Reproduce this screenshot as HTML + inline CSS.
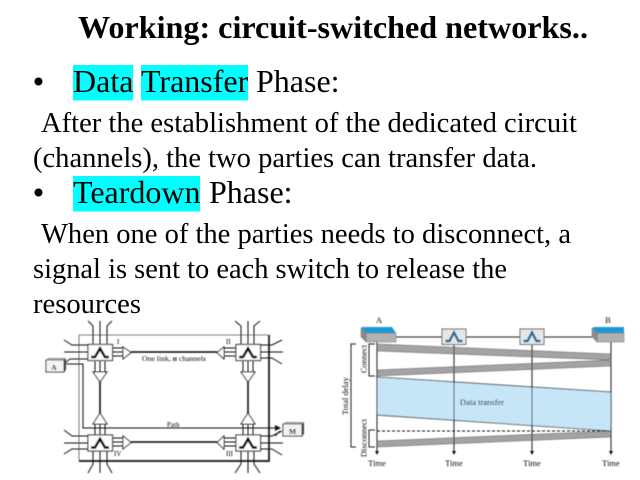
<!DOCTYPE html>
<html>
<head>
<meta charset="utf-8">
<style>
html,body{margin:0;padding:0;background:#fff;width:640px;height:480px;overflow:hidden}
svg{display:block}
text{font-family:"Liberation Serif","Times New Roman",serif;fill:#000}
.b{font-size:29px}
.h{font-size:32px}
.d{filter:url(#bl)}
.t{filter:url(#tb)}
</style>
</head>
<body>
<svg width="640" height="480" viewBox="0 0 640 480" xmlns="http://www.w3.org/2000/svg">
<defs>
<filter id="bl" x="-5%" y="-5%" width="110%" height="110%"><feGaussianBlur stdDeviation="0.45"/></filter>
<filter id="tb" x="-2%" y="-2%" width="104%" height="104%"><feGaussianBlur stdDeviation="0.2"/></filter>
<g id="sw">
<rect x="-12" y="-8" width="24.500" height="16" fill="#fff" stroke="#222" stroke-width="1.100"/>
<path d="M-9 4.500H-5L0 -4L5 4.500H9" fill="none" stroke="#000" stroke-width="2.600"/>
</g>
<g id="swr">
<rect x="-12" y="-8" width="24" height="15.500" fill="#e4e7e8" stroke="#666" stroke-width="1"/>
<path d="M-8.500 4H-4.500L0 -4.500L4.500 4H8.500" fill="none" stroke="#1e6a94" stroke-width="2.400"/>
</g>
</defs>

<rect x="73" y="65" width="60" height="35.500" fill="#00ffff"/>
<rect x="141" y="65" width="107" height="35.500" fill="#00ffff"/>
<rect x="73" y="176" width="127" height="35.500" fill="#00ffff"/>

<g class="t">
<text x="78" y="38" font-size="32" font-weight="bold" textLength="510" lengthAdjust="spacingAndGlyphs">Working: circuit-switched networks..</text>
<circle cx="38.500" cy="81.500" r="4" fill="#000"/>
<circle cx="38.500" cy="192.500" r="4" fill="#000"/>
<text class="h" x="73" y="92">Data</text>
<text class="h" x="141" y="92">Transfer</text>
<text class="h" x="256" y="92">Phase:</text>
<text class="b" x="41" y="132" textLength="536" lengthAdjust="spacingAndGlyphs">After the establishment of the dedicated circuit</text>
<text class="b" x="33" y="167" textLength="504" lengthAdjust="spacingAndGlyphs">(channels), the two parties can transfer data.</text>
<text class="h" x="73" y="203">Teardown</text>
<text class="h" x="209" y="203">Phase:</text>
<text class="b" x="41" y="243" textLength="530" lengthAdjust="spacingAndGlyphs">When one of the parties needs to disconnect, a</text>
<text class="b" x="33" y="278" textLength="474" lengthAdjust="spacingAndGlyphs">signal is sent to each switch to release the</text>
<text class="b" x="33" y="313" textLength="108" lengthAdjust="spacingAndGlyphs">resources</text>
</g>

<!-- Left diagram -->
<g class="d" fill="none" stroke="#111">
<path d="M79 335H269" stroke-width="0.8" stroke="#555"/>
<path d="M79 335V461" stroke-width="0.8" stroke="#555"/>
<path d="M269 335V461H79" stroke-width="1.700"/>
<!-- spokes -->
<g stroke-width="1">
<path d="M88 321L93 326V344M100 321V344M112 321L107 326V344"/>
<path d="M235 321L241 326V344M248 321V344M260 321L254 326V344"/>
<path d="M64 340L72 345H88M64 352H88M88 359H70L65 363"/>
<path d="M260 345H272L282 340M260 352H283M260 358H272L282 364"/>
<path d="M64 430L72 436H88M64 443H88M64 454L72 449H88"/>
<path d="M100 451V473M93 451V464L88 473M107 451V464L112 473"/>
<path d="M260 436H272L282 431M260 443H283M260 449H272L282 455"/>
<path d="M248 451V473M241 451V464L235 473M254 451V464L260 473"/>
</g>
<!-- path from A to M -->
<path d="M66 364H83V428H276" stroke-width="1"/>
<path d="M275 436L280 431" stroke-width="1"/>
<!-- links -->
<g stroke-width="1.500" stroke="#000">
<path d="M131 352H217"/>
<path d="M131 442H217"/>
<path d="M100 381V415"/>
<path d="M248 381V415"/>
</g>
<g stroke-width="1" fill="#fff">
<path d="M112 348H123M112 352H123M112 356H123"/>
<path d="M123 347L131 352.500L123 359Z"/>
<path d="M236 348H224M236 352H224M236 356H224"/>
<path d="M224 347L217 352.500L224 359Z"/>
<path d="M112 438H123M112 442H123M112 446H123"/>
<path d="M123 436L131 442.500L123 449Z"/>
<path d="M236 438H224M236 442H224M236 446H224"/>
<path d="M224 436L217 442.500L224 449Z"/>
<path d="M95 361V372M100 361V372M105 361V372"/>
<path d="M93 372L100 382L107 372Z"/>
<path d="M243 361V372M248 361V372M253 361V372"/>
<path d="M241 372L248 382L255 372Z"/>
<path d="M95 435V424M100 435V424M105 435V424"/>
<path d="M93 424L100 413L107 424Z"/>
<path d="M243 435V424M248 435V424M253 435V424"/>
<path d="M241 424L248 413L255 424Z"/>
</g>
</g>
<g class="d">
<use href="#sw" x="100" y="352.500"/>
<use href="#sw" x="248" y="352.500"/>
<use href="#sw" x="100" y="443"/>
<use href="#sw" x="248" y="443"/>
<path d="M275 425L281 428L275 431Z" fill="#111"/>
<rect x="46" y="360" width="18" height="12" fill="#f3f3f3" stroke="#222"/>
<path d="M64 360L66 358V370L64 372Z" fill="#444"/>
<path d="M46 360L48 358H66L64 360Z" fill="#999"/>
<text x="54" y="370" font-size="7.500" font-weight="bold" text-anchor="middle">A</text>
<rect x="283" y="424" width="19" height="12" fill="#f3f3f3" stroke="#222"/>
<path d="M302 424L304 422V434L302 436Z" fill="#444"/>
<path d="M283 424L285 422H304L302 424Z" fill="#999"/>
<text x="292.500" y="434" font-size="7.500" font-weight="bold" text-anchor="middle">M</text>
<text x="117" y="344" font-size="7">I</text>
<text x="226" y="344" font-size="7">II</text>
<text x="114" y="456" font-size="7">IV</text>
<text x="226" y="456" font-size="7">III</text>
<text x="142" y="361" font-size="7" textLength="64" lengthAdjust="spacingAndGlyphs">One link, <tspan font-style="italic" font-weight="bold">n</tspan> channels</text>
<text x="167" y="427" font-size="7">Path</text>
</g>

<!-- Right diagram -->
<g class="d">
<polygon points="377,377 611,392 611,431 377,415" fill="#c6e6f7"/>
<path d="M377 377L611 392M377 415L611 431" stroke="#222" stroke-width="0.8" fill="none"/>
<polygon points="377,344 611,354 611,360 377,351" fill="#a3a3a5" stroke="#555" stroke-width="0.5"/>
<polygon points="377,370 611,360 611,366 377,376" fill="#a3a3a5" stroke="#555" stroke-width="0.5"/>
<polygon points="377,441 611,431 611,437 377,447" fill="#a3a3a5" stroke="#555" stroke-width="0.5"/>
<path d="M377 431H611" stroke="#111" stroke-width="0.9" stroke-dasharray="3 2" fill="none"/>
<g stroke="#222" stroke-width="1" fill="none">
<path d="M396 337H592"/>
<path d="M377 342V451"/><path d="M454 344V451"/><path d="M532 344V451"/><path d="M611 342V451"/>
<path d="M356 344H351V447H356"/>
<path d="M375 344H369V376H375"/>
<path d="M375 430H369V447H375"/>
</g>
<g fill="#111">
<path d="M375 451H379L377 455Z"/><path d="M452 451H456L454 455Z"/><path d="M530 451H534L532 455Z"/><path d="M609 451H613L611 455Z"/>
</g>
<use href="#swr" x="454" y="337"/>
<use href="#swr" x="532" y="337"/>
<polygon points="361,328 366,333 396,333 392,327 362,327" fill="#1e9ad6"/>
<rect x="366" y="333" width="30" height="9" fill="#b1b1b3" stroke="#666" stroke-width="0.5"/>
<polygon points="361,328 366,333 366,342 361,337" fill="#8a8a8c" stroke="#666" stroke-width="0.4"/>
<polygon points="592,328 597,333 624,333 624,327 594,327" fill="#1e9ad6"/>
<rect x="597" y="333" width="27" height="9" fill="#b1b1b3" stroke="#666" stroke-width="0.5"/>
<polygon points="592,328 597,333 597,342 592,337" fill="#8a8a8c" stroke="#666" stroke-width="0.4"/>
<g font-size="8.500">
<text x="379" y="323" text-anchor="middle">A</text>
<text x="608" y="323" text-anchor="middle">B</text>
<text x="482" y="405" text-anchor="middle">Data transfer</text>
<text x="377" y="466" text-anchor="middle">Time</text>
<text x="454" y="466" text-anchor="middle">Time</text>
<text x="532" y="466" text-anchor="middle">Time</text>
<text x="611" y="466" text-anchor="middle">Time</text>
<text transform="translate(348 396) rotate(-90)" text-anchor="middle">Total delay</text>
<text transform="translate(366.500 359) rotate(-90)" text-anchor="middle">Connect</text>
<text transform="translate(366.500 438) rotate(-90)" text-anchor="middle">Disconnect</text>
</g>
</g>
</svg>
</body>
</html>
